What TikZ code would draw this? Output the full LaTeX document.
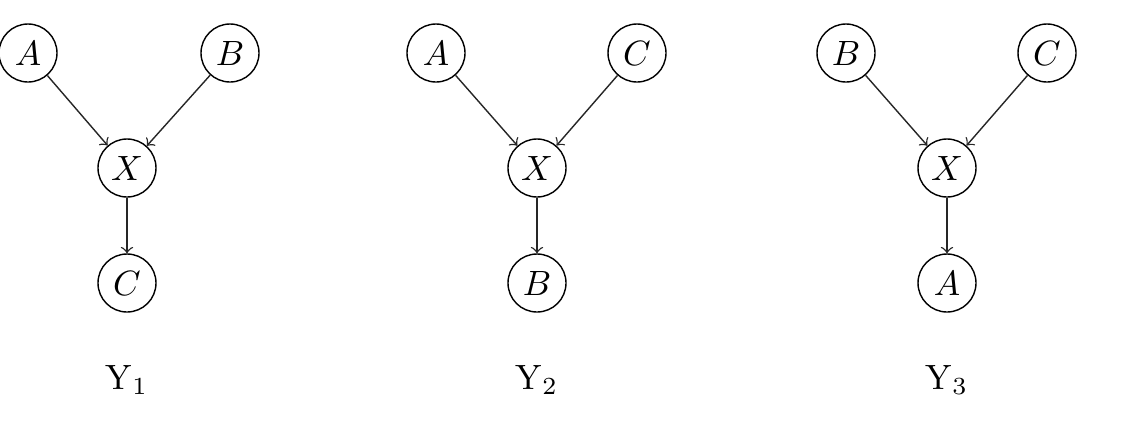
\documentclass[tikz,border=0pt]{standalone}
\usepackage{tikz}

\tikzset{
  var/.style={draw, circle, minimum size=0.58cm, inner sep=0pt},
  edge/.style={->, black!85}
}

\begin{document}
\begin{tikzpicture}
  \useasboundingbox (0,0) rectangle (11.26,4.35);

  % Y_1
  \node[var] (a1) at (0.28, 3.82) {$A$};
  \node[var] (b1) at (2.30, 3.82) {$B$};
  \node[var] (x1) at (1.27, 2.67) {$X$};
  \node[var] (c1) at (1.27, 1.52) {$C$};
  \draw[edge] (a1) -- (x1);
  \draw[edge] (b1) -- (x1);
  \draw[edge] (x1) -- (c1);
  \node (y1) at (1.27, 0.55) {Y$_1$};

  % Y_2
  \node[var] (a2) at (4.36, 3.82) {$A$};
  \node[var] (c2) at (6.37, 3.82) {$C$};
  \node[var] (x2) at (5.37, 2.67) {$X$};
  \node[var] (b2) at (5.37, 1.52) {$B$};
  \draw[edge] (a2) -- (x2);
  \draw[edge] (c2) -- (x2);
  \draw[edge] (x2) -- (b2);
  \node (y2) at (5.37, 0.55) {Y$_2$};

  % Y_3
  \node[var] (b3) at (8.46, 3.82) {$B$};
  \node[var] (c3) at (10.47, 3.82) {$C$};
  \node[var] (x3) at (9.47, 2.67) {$X$};
  \node[var] (a3) at (9.47, 1.52) {$A$};
  \draw[edge] (b3) -- (x3);
  \draw[edge] (c3) -- (x3);
  \draw[edge] (x3) -- (a3);
  \node (y3) at (9.47, 0.55) {Y$_3$};
\end{tikzpicture}
\end{document}
